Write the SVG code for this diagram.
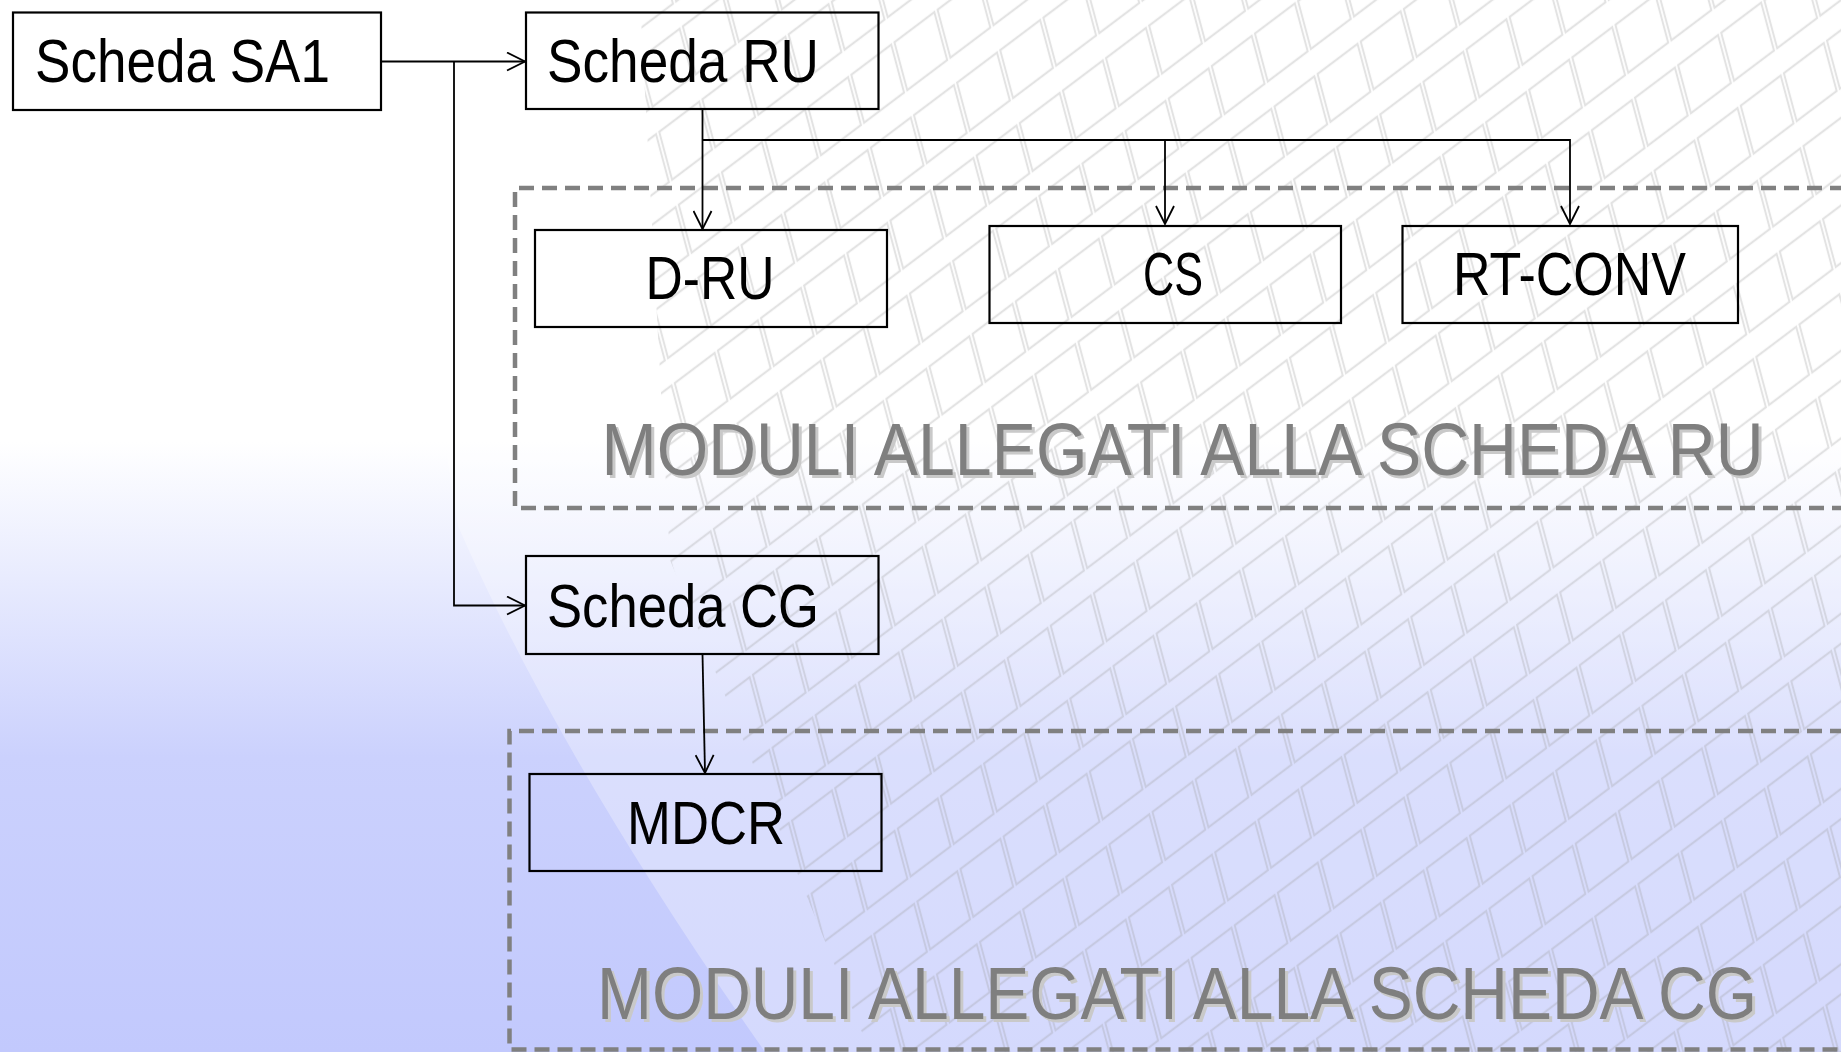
<svg xmlns="http://www.w3.org/2000/svg" width="1841" height="1052" viewBox="0 0 1841 1052">
<style>
.node{fill:none;stroke:#000;stroke-width:2.2}
.lbl{font-family:"Liberation Sans",Arial,sans-serif;font-size:62px;fill:#000}
.conn{fill:none;stroke:#000;stroke-width:1.8}
.group{fill:none;stroke:#808080;stroke-width:4.5;stroke-dasharray:15 8}
.big{font-family:"Liberation Sans",Arial,sans-serif;font-size:65px;fill:#7f7f7f}
.bigsh{font-family:"Liberation Sans",Arial,sans-serif;font-size:65px;fill:#c9c9c9}
</style>
<defs>
<linearGradient id="bg" x1="0" y1="0" x2="0" y2="1">
<stop offset="0" stop-color="#ffffff"/>
<stop offset="0.42" stop-color="#ffffff"/>
<stop offset="0.55" stop-color="#e8ebfe"/>
<stop offset="0.72" stop-color="#cbd1fd"/>
<stop offset="1" stop-color="#c2c9fd"/>
</linearGradient>
<pattern id="grid" patternUnits="userSpaceOnUse" width="54" height="70" patternTransform="rotate(-37) skewX(-22)">
<rect x="2" y="12" width="50" height="46" fill="none" stroke="#9a9a9a" stroke-width="2.2"/>
</pattern>
<clipPath id="gridclip">
<path d="M640 0 L1841 0 L1841 1052 L870 1052 L670 560 Z"/>
</clipPath>
<marker id="arr" viewBox="0 0 20 20" refX="19" refY="10" markerWidth="20" markerHeight="20" markerUnits="userSpaceOnUse" orient="auto">
<path d="M1,1 L19,10 L1,19" fill="none" stroke="#000" stroke-width="1.8"/>
</marker>
</defs>
<g id="background">
<rect x="0" y="0" width="1841" height="1052" fill="url(#bg)"/>
<path d="M395 0 L1841 0 L1841 1052 L765 1052 Q560 760 458 526 Q420 300 395 0 Z" fill="#ffffff" opacity="0.3"/>
<rect x="0" y="0" width="1841" height="1052" fill="url(#grid)" clip-path="url(#gridclip)" opacity="0.28"/>
</g>
<g id="group-ru">
<path class="group" d="M1845 188 H515 V508 H1845"/>
<text class="bigsh" transform="translate(604.5 478) scale(1 1.14)" x="0" y="0" textLength="1162" lengthAdjust="spacingAndGlyphs">MODULI ALLEGATI ALLA SCHEDA RU</text>
<text class="big" transform="translate(601.5 475) scale(1 1.14)" x="0" y="0" textLength="1162" lengthAdjust="spacingAndGlyphs">MODULI ALLEGATI ALLA SCHEDA RU</text>
</g>
<g id="group-cg">
<path class="group" d="M1845 731 H509.5 V1049.5 H1845"/>
<text class="bigsh" transform="translate(600 1022) scale(1 1.14)" x="0" y="0" textLength="1160" lengthAdjust="spacingAndGlyphs">MODULI ALLEGATI ALLA SCHEDA CG</text>
<text class="big" transform="translate(597 1019) scale(1 1.14)" x="0" y="0" textLength="1160" lengthAdjust="spacingAndGlyphs">MODULI ALLEGATI ALLA SCHEDA CG</text>
</g>
<g id="connectors">
<path class="conn" d="M381 61.5 H525" marker-end="url(#arr)"/>
<path class="conn" d="M454 61.5 V605.5 H525" marker-end="url(#arr)"/>
<path class="conn" d="M702.5 109 V229" marker-end="url(#arr)"/>
<path class="conn" d="M702.5 140 H1570 V224" marker-end="url(#arr)"/>
<path class="conn" d="M1165 140 V224" marker-end="url(#arr)"/>
<path class="conn" d="M702.5 654 L705 773" marker-end="url(#arr)"/>
</g>
<g id="node-sa1">
<rect class="node" x="13" y="12.5" width="368" height="97.5"/>
<text class="lbl" x="35" y="82" textLength="295" lengthAdjust="spacingAndGlyphs">Scheda SA1</text>
</g>
<g id="node-ru">
<rect class="node" x="526" y="12.5" width="352.5" height="96.5"/>
<text class="lbl" x="547" y="82" textLength="272" lengthAdjust="spacingAndGlyphs">Scheda RU</text>
</g>
<g id="node-dru">
<rect class="node" x="535" y="230" width="352" height="97"/>
<text class="lbl" x="645.5" y="298.5" textLength="129" lengthAdjust="spacingAndGlyphs">D-RU</text>
</g>
<g id="node-cs">
<rect class="node" x="989.5" y="226" width="351.5" height="97"/>
<text class="lbl" x="1143" y="295" textLength="60" lengthAdjust="spacingAndGlyphs">CS</text>
</g>
<g id="node-rtconv">
<rect class="node" x="1402.5" y="226" width="335.5" height="97"/>
<text class="lbl" x="1453" y="295" textLength="233" lengthAdjust="spacingAndGlyphs">RT-CONV</text>
</g>
<g id="node-cg">
<rect class="node" x="526" y="556" width="352.5" height="98"/>
<text class="lbl" x="547" y="626.5" textLength="272" lengthAdjust="spacingAndGlyphs">Scheda CG</text>
</g>
<g id="node-mdcr">
<rect class="node" x="529.5" y="774" width="352" height="97"/>
<text class="lbl" x="627" y="844" textLength="158" lengthAdjust="spacingAndGlyphs">MDCR</text>
</g>
</svg>
